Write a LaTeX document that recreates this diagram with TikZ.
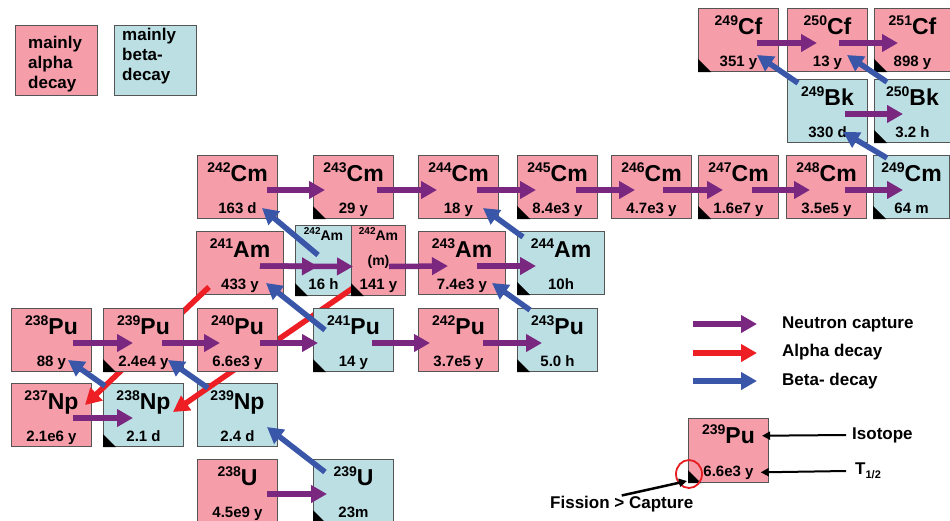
\documentclass[tikz,border=0pt]{standalone}
\usepackage{fontspec}
\setmainfont{Liberation Sans}
\usetikzlibrary{arrows.meta,shapes.geometric}
\definecolor{alphapink}{RGB}{245,158,170}
\definecolor{betablue}{RGB}{188,223,228}
\definecolor{boxgray}{RGB}{85,85,85}
\definecolor{ncol}{RGB}{122,39,128}
\definecolor{acol}{RGB}{237,30,36}
\definecolor{bcol}{RGB}{58,86,168}
\definecolor{ringred}{RGB}{230,30,36}
\newcommand{\massno}[1]{\raisebox{9pt}{\fontsize{14}{14}\selectfont #1}}
\newcommand{\massnosm}[1]{\raisebox{6pt}{\fontsize{10}{10}\selectfont #1}}
% box, mass number + symbol, half-life
\newcommand{\nuclide}[8]{%
  \node[nuc,fill=#5,minimum width=#4pt] (#1) at (#2,#3) {};
  \node[sym] (#1-s) at ([yshift=-26pt]#1.north) {\massno{#6}#7};
  \node[half] (#1-t) at ([yshift=6pt]#1.south) {#8};}

\begin{document}
\begin{tikzpicture}[x=1pt,y=-1pt,
  nuc/.style={draw=boxgray,line width=1pt,anchor=north west,inner sep=0pt,minimum width=80pt,minimum height=63pt},
  sym/.style={anchor=base,inner sep=0pt,font=\fontsize{23}{23}\selectfont\bfseries},
  symsm/.style={anchor=base,inner sep=0pt,font=\fontsize{14}{14}\selectfont\bfseries},
  half/.style={anchor=base,inner sep=0pt,font=\fontsize{15}{15}\selectfont\bfseries},
  txt/.style={inner sep=0pt,font=\fontsize{17}{20}\selectfont\bfseries},
  ncap/.style={draw=ncol,line width=5.5pt,-{Triangle[length=16pt,width=17pt]}},
  adec/.style={ncap,draw=acol},
  bdec/.style={ncap,draw=bcol},
  pointer/.style={draw=black,line width=2pt,-{Triangle[length=8pt,width=8pt]}}]
\useasboundingbox (0,0) rectangle (950,520);

% key boxes
\node[nuc,fill=alphapink,minimum width=82pt,minimum height=70pt] (keyalpha) at (15,25) {};
\node[txt,anchor=north west,align=left] (keyalpha-t) at (28,35.5) {mainly\\alpha\\decay};
\node[nuc,fill=betablue,minimum width=82pt,minimum height=70pt] (keybeta) at (114,25) {};
\node[txt,anchor=north west,align=left] (keybeta-t) at (122,27.5) {mainly\\beta-\\decay};

% nuclides
\foreach \nm/\px/\py/\bw/\col/\mass/\el/\hlf in {
  cf249/698/8/80/alphapink/249/Cf/351 y,
  cf250/787/8/80/alphapink/250/Cf/13 y,
  cf251/874/8/76/alphapink/251/Cf/898 y,
  bk249/787/79/80/betablue/249/Bk/330 d,
  bk250/874/79/76/betablue/250/Bk/3.2 h,
  cm242/197/155/80/alphapink/242/Cm/163 d,
  cm243/313/155/80/alphapink/243/Cm/29 y,
  cm244/418/155/80/alphapink/244/Cm/18 y,
  cm245/517/155/80/alphapink/245/Cm/8.4e3 y,
  cm246/611/155/80/alphapink/246/Cm/4.7e3 y,
  cm247/698/155/80/alphapink/247/Cm/1.6e7 y,
  cm248/786/155/80/alphapink/248/Cm/3.5e5 y,
  cm249/873/155/76/betablue/249/Cm/64 m,
  am241/196/231/87/alphapink/241/Am/433 y,
  am243/418/231/87/alphapink/243/Am/7.4e3 y,
  am244/517/231/87/betablue/244/Am/10h,
  np237/11/383/80/alphapink/237/Np/2.1e6 y,
  np238/103/383/80/betablue/238/Np/2.1 d,
  np239/197/383/80/betablue/239/Np/2.4 d,
  u238/197/459/80/alphapink/238/U/4.5e9 y,
  u239/313/459/80/betablue/239/U/23m}
  {\nuclide{\nm}{\px}{\py}{\bw}{\col}{\mass}{\el}{\hlf}}

% 242Am and its isomer
\node[nuc,fill=betablue,minimum width=56pt,minimum height=70pt] (am242) at (295,225) {};
\node[nuc,fill=alphapink,minimum width=54pt,minimum height=70pt] (am242m) at (351,225) {};
\node[symsm] (am242-s) at ([yshift=-15pt]am242.north) {\massnosm{242}Am};
\node[half] (am242-t) at ([yshift=7pt]am242.south) {16 h};
\node[symsm] (am242m-s) at ([yshift=-15pt]am242m.north) {\massnosm{242}Am};
\node[symsm] (am242m-m) at ([yshift=-40pt]am242m.north) {(m)};
\node[half] (am242m-t) at ([yshift=7pt]am242m.south) {141 y};

% alpha decay (runs behind the Pu row)
\draw[adec] ([shift={(13,56)}]am241.north west) -- ([shift={(74,22)}]np237.north west);
\draw[adec] ([shift={(2,63)}]am242m.north west) -- ([shift={(70,29)}]np238.north west);

\foreach \nm/\px/\py/\bw/\col/\mass/\el/\hlf in {
  pu238/11/308/80/alphapink/238/Pu/88 y,
  pu239/103/308/80/alphapink/239/Pu/2.4e4 y,
  pu240/197/308/80/alphapink/240/Pu/6.6e3 y,
  pu241/313/308/80/betablue/241/Pu/14 y,
  pu242/418/308/80/alphapink/242/Pu/3.7e5 y,
  pu243/517/308/80/betablue/243/Pu/5.0 h}
  {\nuclide{\nm}{\px}{\py}{\bw}{\col}{\mass}{\el}{\hlf}}

% isotope key
\node[nuc,fill=alphapink,minimum height=64pt] (legpu) at (688,418) {};
\node[sym] (legpu-s) at ([yshift=-25pt]legpu.north) {\massno{239}Pu};
\node[half] (legpu-t) at ([yshift=7pt]legpu.south) {6.6e3 y};

% fission > capture
\foreach \nm in {cf249,cf251,bk250,cm243,cm245,cm247,cm249,am242,am242m,am244,pu239,pu241,pu243,np238,u239,legpu}
  \fill[black] (\nm.south west) -- ++(0,-13) -- ++(13,13) -- cycle;

% neutron capture
\foreach \src/\tgt/\sa/\ta in {cf249/cf250/59/30, cf250/cf251/52/24, bk249/bk250/58/29,
  cm242/cm243/70/12, cm243/cm244/64/19, cm244/cm245/59/19, cm245/cm246/59/24,
  cm246/cm247/52/25, cm247/cm248/54/24, cm248/cm249/59/30, am243/am244/59/19,
  pu238/pu239/62/30, pu239/pu240/59/23, pu240/pu241/63/5, pu241/pu242/59/12,
  pu242/pu243/65/25, np237/np238/62/30, u238/u239/70/14}
  \draw[ncap] ([shift={(\sa,3)}]\src.west) -- ([shift={(\ta,3)}]\tgt.west);
\draw[ncap] ([shift={(64,3)}]am241.west) -- ([shift={(23,6)}]am242.west);
\draw[ncap] ([shift={(64,3)}]am241.west) -- ([shift={(2,6)}]am242m.west);
\draw[ncap] ([shift={(38,6)}]am242m.west) -- ([shift={(30,3)}]am243.west);

% beta decay
\foreach \src/\tgt/\ax/\ay/\bx/\by in {bk249/cf249/11/4/59/47, bk250/cf250/13/3/60/47,
  cm249/bk249/14/3/56/53, am242/cm242/23/30/65/53, am244/cm244/6/6/65/53,
  pu243/am243/13/2/74/52, pu241/am241/12/22/70/52, np239/pu239/11/5/65/52,
  np238/pu238/2/3/57/52, u239/np239/12/13/70/44}
  \draw[bdec] ([shift={(\ax,\ay)}]\src.north west) -- ([shift={(\bx,\by)}]\tgt.north west);

% arrow key
\coordinate (keyn-a) at (693,324);
\coordinate (keyn-b) at (757,324);
\coordinate (keya-a) at (693,353);
\coordinate (keya-b) at (757,353);
\coordinate (keyb-a) at (693,381);
\coordinate (keyb-b) at (757,381);
\draw[ncap] (keyn-a) -- (keyn-b);
\draw[adec] (keya-a) -- (keya-b);
\draw[bdec] (keyb-a) -- (keyb-b);
\node[txt,anchor=base west] (keyn) at (782,328) {Neutron capture};
\node[txt,anchor=base west] (keya) at (782,356) {Alpha decay};
\node[txt,anchor=base west] (keyb) at (782,385) {Beta- decay};

% isotope key labels
\node[txt,anchor=west] (isolab) at (852,435) {Isotope};
\node[txt,anchor=west] (thalf) at (855,471) {T\raisebox{-4pt}{\fontsize{11}{11}\selectfont 1/2}};
\draw[pointer] ([xshift=-6pt]isolab.west) -- ([shift={(7,2)}]legpu-s.east);
\draw[pointer] ([xshift=-9pt]thalf.west) -- ([xshift=7pt]legpu-t.east);
\node[draw=ringred,line width=1.8pt,ellipse,inner sep=0pt,minimum width=26pt,minimum height=28pt] (ring) at ([shift={(1,-9)}]legpu.south west) {};
\node[txt,anchor=base west] (fcap) at (550,508) {Fission > Capture};
\draw[pointer,line width=2.5pt] (fcap.north) -- ([shift={(-2,7)}]ring.center);
\end{tikzpicture}
\end{document}
